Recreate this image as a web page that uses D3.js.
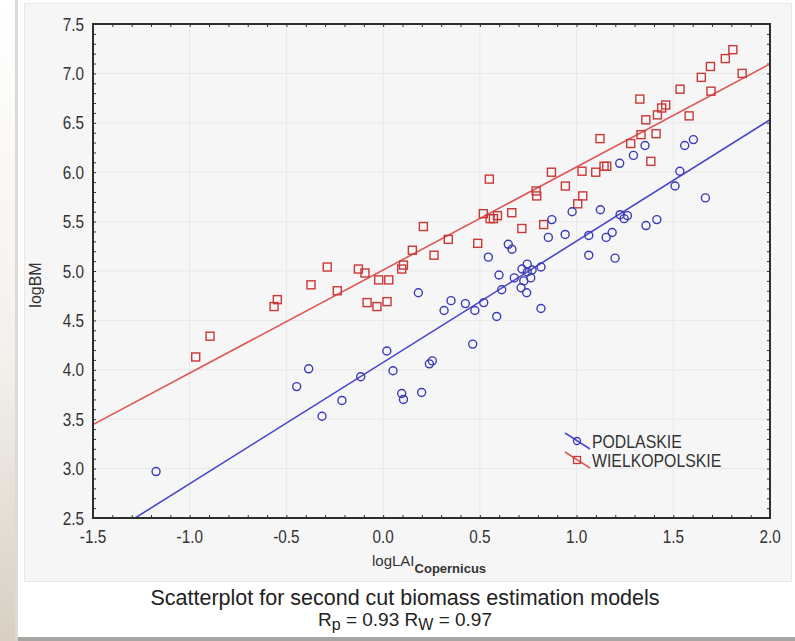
<!DOCTYPE html>
<html>
<head>
<meta charset="utf-8">
<script src="https://cdn.jsdelivr.net/npm/d3@7"></script>
<style>
html, body { margin: 0; padding: 0; background: #fff; }
svg { display: block; }
</style>
</head>
<body>
<svg id="chart" width="795" height="641"></svg>
<script>
// PODLASKIE (circles)
var podX = [-1.174, -0.447, -0.385, -0.316, -0.213, -0.116, 0.019, 0.051, 0.096, 0.105,
  0.182, 0.199, 0.239, 0.254, 0.315, 0.351, 0.425, 0.463, 0.474, 0.520,
  0.544, 0.587, 0.599, 0.613, 0.647, 0.666, 0.678, 0.713, 0.718, 0.727,
  0.742, 0.745, 0.745, 0.763, 0.770, 0.816, 0.816, 0.854, 0.872, 0.941,
  0.977, 1.063, 1.063, 1.123, 1.153, 1.184, 1.199, 1.223, 1.225, 1.246,
  1.263, 1.294, 1.354, 1.359, 1.415, 1.509, 1.534, 1.559, 1.604, 1.666];
var podY = [2.97, 3.83, 4.01, 3.53, 3.69, 3.93, 4.19, 3.99, 3.76, 3.70,
  4.78, 3.77, 4.06, 4.09, 4.60, 4.70, 4.67, 4.26, 4.60, 4.68,
  5.14, 4.54, 4.96, 4.81, 5.27, 5.22, 4.93, 4.83, 5.02, 4.90,
  4.78, 5.07, 4.99, 4.93, 5.01, 5.04, 4.62, 5.34, 5.52, 5.37,
  5.60, 5.36, 5.16, 5.62, 5.34, 5.39, 5.13, 6.09, 5.57, 5.53,
  5.56, 6.17, 6.27, 5.46, 5.52, 5.86, 6.01, 6.27, 6.33, 5.74];

// WIELKOPOLSKIE (squares)
var wlkX = [-0.969, -0.895, -0.564, -0.547, -0.373, -0.289, -0.237, -0.128, -0.094, -0.083,
  -0.032, -0.023, 0.029, 0.020, 0.096, 0.105, 0.151, 0.208, 0.263, 0.337,
  0.489, 0.518, 0.549, 0.553, 0.570, 0.591, 0.665, 0.717, 0.791, 0.794,
  0.830, 0.870, 0.942, 1.006, 1.032, 1.028, 1.099, 1.121, 1.142, 1.156,
  1.280, 1.327, 1.333, 1.358, 1.384, 1.411, 1.418, 1.440, 1.461, 1.535,
  1.582, 1.645, 1.692, 1.695, 1.769, 1.808, 1.856];
var wlkY = [4.13, 4.34, 4.64, 4.71, 4.86, 5.04, 4.80, 5.02, 4.98, 4.68,
  4.64, 4.91, 4.91, 4.69, 5.02, 5.06, 5.21, 5.45, 5.16, 5.32,
  5.28, 5.58, 5.93, 5.53, 5.53, 5.56, 5.59, 5.43, 5.81, 5.76,
  5.47, 6.00, 5.86, 5.68, 5.76, 6.01, 6.00, 6.34, 6.06, 6.06,
  6.29, 6.74, 6.38, 6.53, 6.11, 6.39, 6.58, 6.65, 6.68, 6.84,
  6.57, 6.96, 7.07, 6.82, 7.15, 7.24, 7.00];

// regression lines: [intercept, slope]
var podFit = [4.075, 1.228];
var wlkFit = [5.01, 1.043];

var xTicks = [-1.5, -1.0, -0.5, 0.0, 0.5, 1.0, 1.5, 2.0];
var yTicks = [2.5, 3.0, 3.5, 4.0, 4.5, 5.0, 5.5, 6.0, 6.5, 7.0, 7.5];
var seriesNames = ["PODLASKIE", "WIELKOPOLSKIE"];

var blue = "#3a3ab4", blueLine = "#4848c8";
var red = "#c93838", redLine = "#dc5858";

var svg = d3.select("#chart");
var pLeft = 93, pRight = 770, pTop = 24, pBottom = 518;

var x = d3.scaleLinear().domain([-1.5, 2.0]).range([pLeft, pRight]);
var y = d3.scaleLinear().domain([2.5, 7.5]).range([pBottom, pTop]);

// backdrop
var defs = svg.append("defs");
var grad = defs.append("linearGradient").attr("id", "bg").attr("x1", 0).attr("y1", 0).attr("x2", 0).attr("y2", 1);
grad.append("stop").attr("offset", "0%").attr("stop-color", "#ffffff");
grad.append("stop").attr("offset", "55%").attr("stop-color", "#f4f1ec");
grad.append("stop").attr("offset", "100%").attr("stop-color", "#d9d0c3");
svg.append("rect").attr("x", 0).attr("y", 0).attr("width", 795).attr("height", 641).attr("fill", "url(#bg)");
svg.append("rect").attr("x", 18).attr("y", 637).attr("width", 777).attr("height", 4).attr("fill", "#a8a6a2");
svg.append("rect").attr("x", 15).attr("y", 0).attr("width", 3).attr("height", 638).attr("fill", "#dcdad6");
svg.append("rect").attr("x", 18).attr("y", 0).attr("width", 777).attr("height", 637).attr("fill", "#ffffff");
svg.append("rect").attr("x", 24.5).attr("y", 3.5).attr("width", 767).attr("height", 578)
  .attr("fill", "#f6f6f6").attr("stroke", "#e8e8e8");

defs.append("clipPath").attr("id", "plotClip").append("rect")
  .attr("x", pLeft).attr("y", pTop).attr("width", pRight - pLeft).attr("height", pBottom - pTop);

// grid
svg.append("g").selectAll("line").data(xTicks.slice(1, -1)).join("line")
  .attr("x1", d => x(d)).attr("x2", d => x(d)).attr("y1", pTop).attr("y2", pBottom)
  .attr("stroke", "#e8e8e8").attr("stroke-width", 1);
svg.append("g").selectAll("line").data(yTicks.slice(1, -1)).join("line")
  .attr("x1", pLeft).attr("x2", pRight).attr("y1", d => y(d)).attr("y2", d => y(d))
  .attr("stroke", "#e8e8e8").attr("stroke-width", 1);

// minor ticks (inward) on all four sides
var xMinor = d3.range(-15, 21).map(d => d / 10);
var yMinor = d3.range(25, 76).map(d => d / 10);
function addAxis(axis, tr) {
  var g = svg.append("g").attr("transform", tr).call(axis);
  g.select(".domain").remove();
  g.selectAll("text").remove();
  g.selectAll("line").attr("stroke", "#333").attr("stroke-width", 1);
}
addAxis(d3.axisBottom(x).tickValues(xMinor).tickSize(-3), "translate(0," + pBottom + ")");
addAxis(d3.axisTop(x).tickValues(xMinor).tickSize(-3), "translate(0," + pTop + ")");
addAxis(d3.axisLeft(y).tickValues(yMinor).tickSize(-3), "translate(" + pLeft + ",0)");
addAxis(d3.axisRight(y).tickValues(yMinor).tickSize(-3), "translate(" + pRight + ",0)");

// regression lines
var plot = svg.append("g").attr("clip-path", "url(#plotClip)");
var lineGen = d3.line().x(d => x(d[0])).y(d => y(d[1]));
[[wlkFit, redLine], [podFit, blueLine]].forEach(function (f) {
  var pts = [-1.5, 2.0].map(v => [v, f[0][0] + f[0][1] * v]);
  plot.append("path").attr("d", lineGen(pts)).attr("fill", "none")
    .attr("stroke", f[1]).attr("stroke-width", 1.6);
});

// points
var wlk = wlkX.map((v, i) => [v, wlkY[i]]);
var pod = podX.map((v, i) => [v, podY[i]]);
plot.append("g").selectAll("rect").data(wlk).join("rect")
  .attr("x", d => x(d[0]) - 4).attr("y", d => y(d[1]) - 4)
  .attr("width", 8).attr("height", 8)
  .attr("fill", "none").attr("stroke", red).attr("stroke-width", 1.4);
plot.append("g").selectAll("circle").data(pod).join("circle")
  .attr("cx", d => x(d[0])).attr("cy", d => y(d[1])).attr("r", 4)
  .attr("fill", "none").attr("stroke", blue).attr("stroke-width", 1.4);

// frame
svg.append("rect").attr("x", pLeft).attr("y", pTop).attr("width", pRight - pLeft).attr("height", pBottom - pTop)
  .attr("fill", "none").attr("stroke", "#2e2e2e").attr("stroke-width", 2);

// tick labels (slightly condensed, like the original)
var sans = "'Liberation Sans', Arial, sans-serif";
svg.append("g").selectAll("text").data(xTicks).join("text")
  .attr("transform", d => "translate(" + x(d) + "," + (pBottom + 25) + ") scale(0.85,1)")
  .attr("text-anchor", "middle").attr("font-family", sans).attr("font-size", 18)
  .attr("fill", "#333").text(d => d.toFixed(1));
svg.append("g").selectAll("text").data(yTicks).join("text")
  .attr("transform", d => "translate(" + (pLeft - 9) + "," + (y(d) + 6.5) + ") scale(0.85,1)")
  .attr("text-anchor", "end").attr("font-family", sans).attr("font-size", 18)
  .attr("fill", "#333").text(d => d.toFixed(1));

// axis titles
svg.append("text").attr("transform", "translate(41,285) rotate(-90)")
  .attr("text-anchor", "middle").attr("font-family", sans).attr("font-size", 16)
  .attr("fill", "#333").text("logBM");
var xt = svg.append("text").attr("x", 372).attr("y", 566)
  .attr("font-family", sans).attr("font-size", 15).attr("fill", "#333");
xt.append("tspan").text("logLAI");
xt.append("tspan").attr("dy", 7).attr("font-size", 13).attr("font-weight", "bold").text("Copernicus");

// legend
var legend = svg.append("g");
var legItems = [[seriesNames[0], blueLine, blue, "circle"], [seriesNames[1], redLine, red, "rect"]];
legItems.forEach(function (it, i) {
  var cy = 441 + i * 19;
  legend.append("line").attr("x1", 565).attr("y1", cy - 8).attr("x2", 590).attr("y2", cy + 8)
    .attr("stroke", it[1]).attr("stroke-width", 1.5);
  if (it[3] === "circle") {
    legend.append("circle").attr("cx", 577).attr("cy", cy).attr("r", 3.5)
      .attr("fill", "none").attr("stroke", it[2]).attr("stroke-width", 1.3);
  } else {
    legend.append("rect").attr("x", 573.5).attr("y", cy - 3.5).attr("width", 7).attr("height", 7)
      .attr("fill", "none").attr("stroke", it[2]).attr("stroke-width", 1.3);
  }
  legend.append("text").attr("transform", "translate(592," + (cy + 6.5) + ") scale(0.88,1)")
    .attr("font-family", sans).attr("font-size", 18).attr("fill", "#333").text(it[0]);
});

// caption
svg.append("text").attr("x", 405).attr("y", 605).attr("text-anchor", "middle")
  .attr("font-family", sans).attr("font-size", 21.5).attr("fill", "#222")
  .text("Scatterplot for second cut biomass estimation models");
var cap2 = svg.append("text").attr("x", 405).attr("y", 626).attr("text-anchor", "middle")
  .attr("font-family", sans).attr("font-size", 19).attr("fill", "#222");
cap2.append("tspan").text("R");
cap2.append("tspan").attr("dy", 4).attr("font-size", 16).text("p");
cap2.append("tspan").attr("dy", -4).text(" = 0.93  R");
cap2.append("tspan").attr("dy", 4).attr("font-size", 16).text("W");
cap2.append("tspan").attr("dy", -4).text(" = 0.97");
</script>
</body>
</html>
